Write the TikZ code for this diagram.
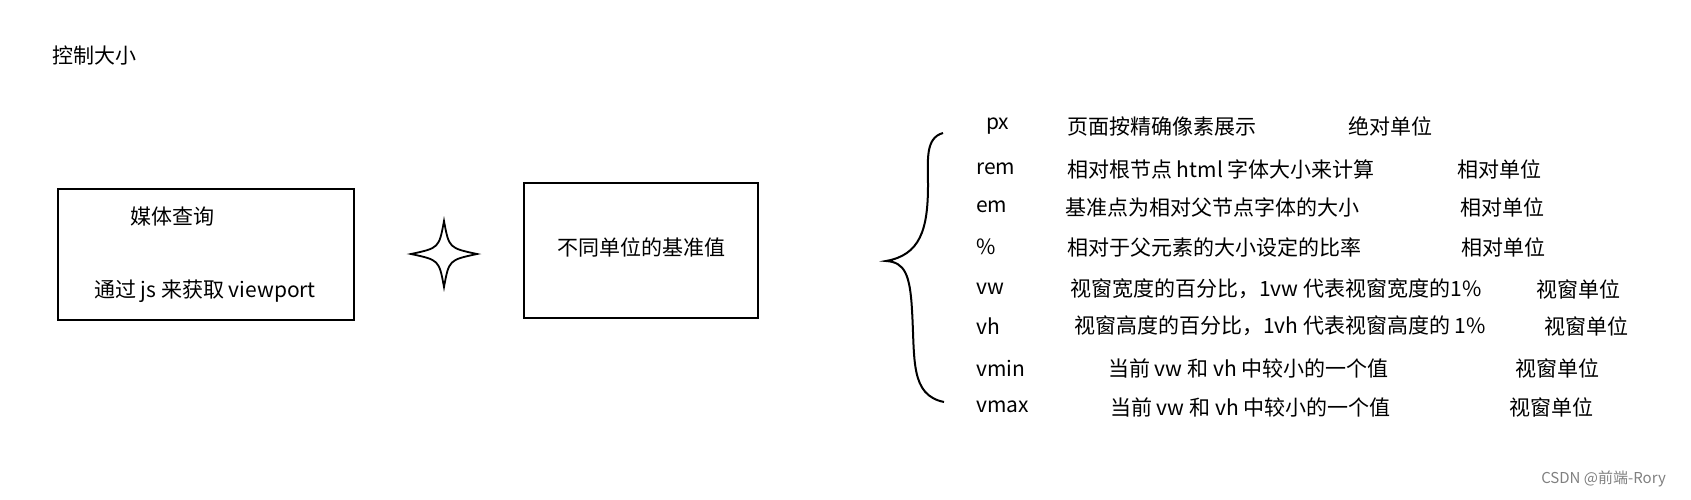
\documentclass[tikz,border=0pt]{standalone}
\usepackage{fontspec}
\setmainfont{Noto Sans CJK SC}
\usetikzlibrary{calc}
\newcommand{\rowfont}{\fontsize{21}{24}\selectfont}
\newcommand{\linew}{2pt}

\begin{document}
\begin{tikzpicture}[x=1pt,y=-1pt,
  txt/.style={inner sep=0pt,font=\rowfont},
  lft/.style={txt,anchor=west}]
\useasboundingbox (0,0) rectangle (1691,499);
\node[lft] (title) at (52,56) {控制大小};
%boxes
\draw[line width=\linew] (58,189) rectangle (354,320);
\node[txt] (media) at (172,217) {媒体查询};
\node[txt] (js) at (205,291) {通过 js 来获取 viewport};
\draw[line width=\linew] (524,183) rectangle (758,318);
\node[txt] (base) at (641,247) {不同单位的基准值};
%star
\draw[line width=1.8pt] (444,221) .. controls (449,248) .. (477,254) .. controls (449,260) .. (444,287) .. controls (439,260) .. (411,254) .. controls (439,248) .. (444,221) -- cycle;
%brace
\draw[line width=\linew] (943,133) .. controls (925,138) and (928,160) .. (928,185)
  .. controls (928,230) and (920,255) .. (886,261)
  .. controls (905,262) and (910,275) .. (912,310)
  .. controls (915,360) and (910,395) .. (944,402);
%rows
\node[lft] (px) at (986,126) {px};
\node[lft] (pxd) at (1067,126) {页面按精确像素展示};
\node[lft] (pxu) at (1348,126) {绝对单位};
\node[lft] (rem) at (976,169) {rem};
\node[lft] (remd) at (1067,169) {相对根节点 html 字体大小来计算};
\node[lft] (remu) at (1457,169) {相对单位};
\node[lft] (em) at (976,207) {em};
\node[lft] (emd) at (1065,207) {基准点为相对父节点字体的大小};
\node[lft] (emu) at (1460,207) {相对单位};
\node[lft] (pct) at (976,247) {\%};
\node[lft] (pctd) at (1067,247) {相对于父元素的大小设定的比率};
\node[lft] (pctu) at (1461,247) {相对单位};
\node[lft] (vw) at (976,289) {vw};
\node[lft] (vwd) at (1070,289) {视窗宽度的百分比，1vw 代表视窗宽度的1\%};
\node[lft] (vwu) at (1536,289) {视窗单位};
\node[lft] (vh) at (976,326) {vh};
\node[lft] (vhd) at (1074,326) {视窗高度的百分比，1vh 代表视窗高度的 1\%};
\node[lft] (vhu) at (1544,326) {视窗单位};
\node[lft] (vmin) at (976,368) {vmin};
\node[lft] (vmind) at (1108,368) {当前 vw 和 vh 中较小的一个值};
\node[lft] (vminu) at (1515,368) {视窗单位};
\node[lft] (vmax) at (976,407) {vmax};
\node[lft] (vmaxd) at (1110,407) {当前 vw 和 vh 中较小的一个值};
\node[lft] (vmaxu) at (1509,407) {视窗单位};
\node[txt,anchor=east,font=\fontsize{15}{18}\selectfont,text=gray] (mark) at (1666,479) {CSDN @前端-Rory};
\end{tikzpicture}
\end{document}
